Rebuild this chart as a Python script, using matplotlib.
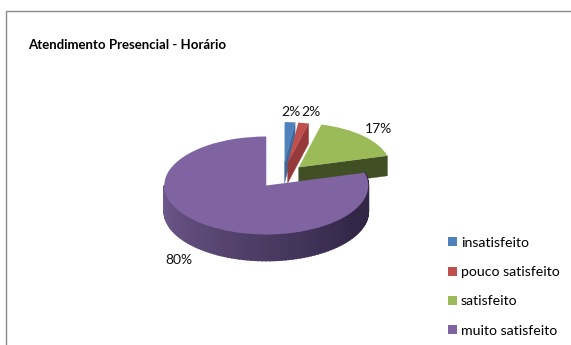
import numpy as np
import matplotlib.pyplot as plt
from matplotlib.patches import Polygon, Rectangle

plt.rcParams['font.family'] = ['Lato', 'DejaVu Sans']

categories = ['insatisfeito', 'pouco satisfeito', 'satisfeito', 'muito satisfeito']
values = [2, 2, 17, 80]
colors = ['#4F81BD', '#C0504D', '#9BBB59', '#8064A2']
cut_colors = ['#3B6A9E', '#96393A', '#404F24', '#3A2D4C']
title = 'Atendimento Presencial - Horário'

W, H = 571, 345
cx, cy = 283, 175     # pie centre in pixels
rx, ry = 102, 49      # pixels per data unit

# slices at the back look a little smaller and thinner
explode = [0.25, 0.25, 0.22, 0.27]
radii = [0.83, 0.83, 0.9, 1.0]
depths = [20 / ry, 20 / ry, 20 / ry, 26 / ry]

fig = plt.figure(figsize=(W / 100, H / 100), dpi=100)
ax = fig.add_axes([0, 0, 1, 1])

wedges, _ = ax.pie(values, colors=colors, startangle=90, counterclock=False,
                   explode=explode, wedgeprops={'linewidth': 0})
ax.set_aspect('auto')
ax.set_xlim(-cx / rx, (W - cx) / rx)
ax.set_ylim(-(H - cy) / ry, cy / ry)
ax.axis('off')


def purple_shade(angle):
    # side wall gets darker going round the front, left to right
    t = np.clip((angle - 180) / 150, 0, 1)
    c0 = np.array([112, 90, 142])
    c1 = np.array([50, 38, 70])
    return (c0 + (c1 - c0) * t) / 255


z = 1
for w, cut, r, depth in zip(wedges, cut_colors, radii, depths):
    w.set_radius(r)
    x0, y0 = w.center
    t1, t2 = sorted((w.theta1, w.theta2))
    if t2 - t1 < 200:
        # the cut edge at the clockwise end faces the viewer
        xe = x0 + r * np.cos(np.radians(t1))
        ye = y0 + r * np.sin(np.radians(t1))
        ax.add_patch(Polygon([(x0, y0), (xe, ye), (xe, ye - depth), (x0, y0 - depth)],
                             fc=cut, ec=cut, lw=0.3, zorder=z))
    else:
        angles = np.linspace(max(t1, 180), t2 if t2 > 360 else t2 + 360, 90)
        for a, b in zip(angles[:-1], angles[1:]):
            xa, xb = x0 + r * np.cos(np.radians([a, b]))
            ya, yb = y0 + r * np.sin(np.radians([a, b]))
            col = purple_shade(a)
            ax.add_patch(Polygon([(xa, ya), (xb, yb), (xb, yb - depth), (xa, ya - depth)],
                                 fc=col, ec=col, lw=1.2, zorder=z))
    w.set_zorder(z + 1)
    z += 2

# outer frame, open on the right and at the bottom
fig.add_artist(Rectangle((6 / W, -0.1), 1.1, 1.1 - 11 / H,
                         transform=fig.transFigure, fc='none', ec='#8a8a8a', lw=1))

fig.text(28 / W, 1 - 45 / H, title, fontsize=9.5, fontweight='bold', va='center', color='black')

label_pos = [(291, 112), (311, 112), (378, 129), (179, 260)]
for v, (px, py) in zip(values, label_pos):
    fig.text(px / W, 1 - py / H, f'{v}%', fontsize=10, ha='center', va='center', color='#111111')

ax.legend(wedges, categories, loc='upper left', bbox_to_anchor=(445 / W, 1 - 234 / H),
          frameon=False, fontsize=10.2, labelspacing=1.22, handlelength=0.62, handleheight=0.62,
          handletextpad=0.3, borderpad=0.2, borderaxespad=0)

fig.savefig('out.png', dpi=100)
